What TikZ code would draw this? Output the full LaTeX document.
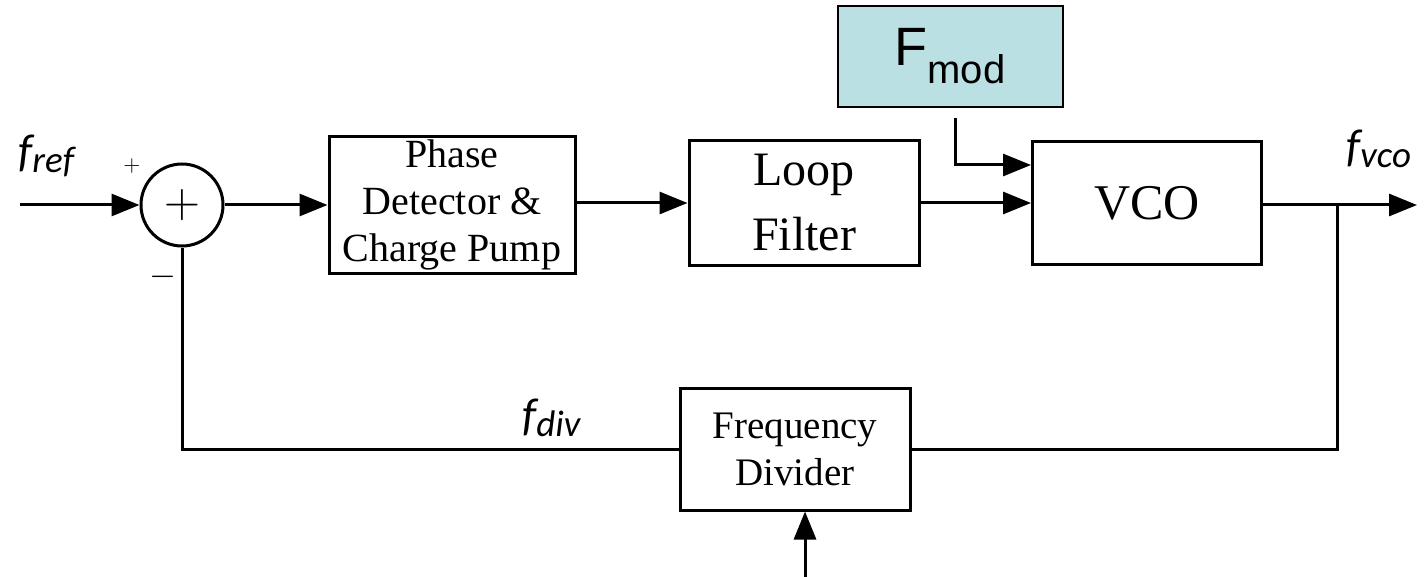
\documentclass[tikz,border=0pt]{standalone}
\usepackage{fontspec}
\setmainfont{Liberation Serif}
\newfontfamily\arialf{Liberation Sans}
\newfontfamily\calf{Carlito}
\usetikzlibrary{arrows.meta}
\definecolor{modfill}{HTML}{BBE0E3}
\tikzset{
  blk/.style={draw, line width=1.5pt, inner sep=0pt, align=center},
  arr/.style={line width=1.5pt, -{Triangle[length=14pt,width=11pt]}},
  ln/.style={line width=1.5pt},
  sig/.style={inner sep=0pt},
}
\newcommand{\sigl}[2]{{\calf\itshape\fontsize{23}{26}\selectfont #1\raisebox{-3pt}{\fontsize{18.5}{20}\selectfont #2}}}
\begin{document}
\begin{tikzpicture}[x=0.5pt,y=-0.5pt]
\useasboundingbox (0,0) rectangle (1427,577);
% blocks
\node[draw, line width=1.5pt, circle, minimum size=41pt, inner sep=0pt] (sum) at (182,205) {\fontsize{24}{26}\selectfont$+$};
\node[blk, minimum width=123pt, minimum height=68.5pt, font=\fontsize{20}{23.5}\selectfont] (pd) at (452,205) {Phase\\Detector \&\\Charge Pump};
\node[blk, minimum width=115pt, minimum height=62pt, font=\fontsize{24}{32.5}\selectfont] (lf) at (804,203) {Loop\\Filter};
\node[blk, minimum width=114.5pt, minimum height=61pt, font=\fontsize{25}{28}\selectfont] (vco) at (1147,203) {VCO};
\node[draw, line width=1pt, fill=modfill, inner sep=0pt, minimum width=112.5pt, minimum height=50.5pt] (fmod) at (950,56.5)
  {{\arialf\fontsize{27}{30}\selectfont F\raisebox{-9pt}{\fontsize{20}{22}\selectfont mod}}};
\node[blk, minimum width=115pt, minimum height=61pt, font=\fontsize{19.5}{23.5}\selectfont] (fd) at (795,449) {Frequency\\Divider};
% coordinates
\coordinate (in) at (20,205);
\coordinate (out) at (1417,205);
\coordinate (tap) at (1337,205);
\coordinate (fm) at (955,118);
\coordinate (nin) at (805,577);
% connectors
\draw[arr] (in) -- (sum.west);
\draw[arr] (sum.east) -- (pd.west |- sum.east);
\draw[arr] (pd.east |- lf.west) -- (lf.west);
\draw[arr] (lf.east) -- (vco.west);
\draw[arr] (fm) |- ([yshift=19pt]vco.west);
\draw[arr] (vco.east |- out) -- (out);
\draw[ln] (tap) |- (fd.east);
\draw[ln] (fd.west) -| (sum.south);
\draw[arr] (nin) -- (nin |- fd.south);
% labels
\node[sig, anchor=base west] (lref) at (18,167) {\sigl{f}{ref}};
\node[sig] (lplus) at (132,166) {\fontsize{11}{12}\selectfont$+$};
\node[sig] (lminus) at (163,277) {\fontsize{18}{20}\selectfont$-$};
\node[sig, anchor=base west] (lvco) at (1346,162) {\sigl{f}{vco}};
\node[sig, anchor=base west] (ldiv) at (522,430) {\sigl{f}{div}};
\end{tikzpicture}
\end{document}
